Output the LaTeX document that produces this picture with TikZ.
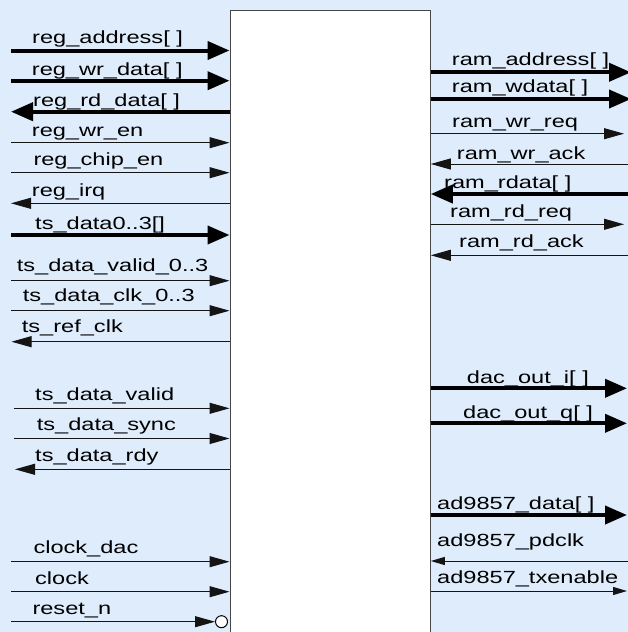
\documentclass[tikz,border=0pt]{standalone}
\usepackage{fontspec}
\setmainfont{Liberation Sans}[FakeStretch=1.34]
\usetikzlibrary{arrows.meta}
\definecolor{bg}{RGB}{222,236,252}
\definecolor{ln}{RGB}{20,20,20}
\definecolor{boxline}{RGB}{70,70,70}
\begin{document}
\begin{tikzpicture}[x=1pt,y=-1pt,
  lbl/.style={anchor=base west, inner sep=0pt, font=\fontsize{17.6}{20}\selectfont},
  bus/.style={draw=black, line width=4pt, -{Triangle[length=22pt,width=18pt]}},
  sig/.style={draw=ln, line width=1pt, -{Triangle[length=20pt,width=11pt]}},
  ssig/.style={draw=ln, line width=1pt, -{Triangle[length=14pt,width=8pt]}},
  blockbox/.style={draw=boxline, line width=1.3pt, fill=white, inner sep=0pt,
    minimum width=200pt, minimum height=660pt, anchor=north west},
  bubble/.style={circle, draw=black, line width=1pt, fill=white, inner sep=0pt, minimum size=12pt}]
\useasboundingbox (0,0) rectangle (628,632);
\clip (0,0) rectangle (628,632);
\fill[bg] (0,0) rectangle (628,632);
\node[blockbox] (box) at (229.5,10) {};

% ---------- left side free ends ----------
\coordinate (l1) at (11,50.5);
\coordinate (l2) at (11,80.7);
\coordinate (l3) at (11,111.7);
\coordinate (l4) at (11,142.7);
\coordinate (l5) at (11,172.7);
\coordinate (l6) at (11,203.3);
\coordinate (l7) at (11,235);
\coordinate (l8) at (11,280.7);
\coordinate (l9) at (11,310.7);
\coordinate (l10) at (11.5,341.7);
\coordinate (l11) at (14,408.3);
\coordinate (l12) at (14,438.5);
\coordinate (l13) at (15,469.3);
\coordinate (l14) at (11,561.7);
\coordinate (l15) at (11,591.7);
\coordinate (l16) at (11,621.7);
\node[bubble] (inv) at (221.5,621.7) {};

% left connectors
\draw[bus] (l1) -- (l1 -| box.west);
\draw[bus] (l2) -- (l2 -| box.west);
\draw[bus] (l3 -| box.west) -- (l3);
\draw[sig] (l4) -- (l4 -| box.west);
\draw[sig] (l5) -- (l5 -| box.west);
\draw[sig] (l6 -| box.west) -- (l6);
\draw[bus] (l7) -- (l7 -| box.west);
\draw[sig] (l8) -- (l8 -| box.west);
\draw[sig] (l9) -- (l9 -| box.west);
\draw[sig] (l10 -| box.west) -- (l10);
\draw[sig] (l11) -- (l11 -| box.west);
\draw[sig] (l12) -- (l12 -| box.west);
\draw[sig] (l13 -| box.west) -- (l13);
\draw[sig] (l14) -- (l14 -| box.west);
\draw[sig] (l15) -- (l15 -| box.west);
\draw[sig] (l16) -- (inv.west);

% left labels
\node[lbl] (t1) at (32,43) {reg\_address[ ]};
\node[lbl] (t2) at (31.7,75) {reg\_wr\_data[ ]};
\node[lbl] (t3) at (33,106) {reg\_rd\_data[ ]};
\node[lbl] (t4) at (31.7,136) {reg\_wr\_en};
\node[lbl] (t5) at (33.3,165.7) {reg\_chip\_en};
\node[lbl] (t6) at (31.7,196.7) {reg\_irq};
\node[lbl] (t7) at (35,229) {ts\_data0..3[]};
\node[lbl] (t8) at (16.7,271.7) {ts\_data\_valid\_0..3};
\node[lbl] (t9) at (22.7,301.7) {ts\_data\_clk\_0..3};
\node[lbl] (t10) at (21.7,332.7) {ts\_ref\_clk};
\node[lbl] (t11) at (35,400) {ts\_data\_valid};
\node[lbl] (t12) at (36.7,430) {ts\_data\_sync};
\node[lbl] (t13) at (35,461.7) {ts\_data\_rdy};
\node[lbl] (t14) at (33.3,553.3) {clock\_dac};
\node[lbl] (t15) at (35,584) {clock};
\node[lbl] (t16) at (32.3,614) {reset\_n};

% ---------- right side free ends ----------
\coordinate (r1) at (631,72.3);
\coordinate (r2) at (631,99);
\coordinate (r3) at (624,133.7);
\coordinate (r4) at (628,164);
\coordinate (r5) at (628,194);
\coordinate (r6) at (624,224.3);
\coordinate (r7) at (628,255.3);
\coordinate (r8) at (627,388.3);
\coordinate (r9) at (627,423.3);
\coordinate (r10) at (627,515);
\coordinate (r11) at (628,561);
\coordinate (r12) at (627,591);

\draw[bus] (box.east |- r1) -- (r1);
\draw[bus] (box.east |- r2) -- (r2);
\draw[sig] (box.east |- r3) -- (r3);
\draw[sig] (r4) -- (r4 -| box.east);
\draw[bus] (r5) -- (r5 -| box.east);
\draw[sig] (box.east |- r6) -- (r6);
\draw[sig] (r7) -- (r7 -| box.east);
\draw[bus] (box.east |- r8) -- (r8);
\draw[bus] (box.east |- r9) -- (r9);
\draw[bus] (box.east |- r10) -- (r10);
\draw[ssig] (r11) -- (r11 -| box.east);
\draw[ssig] (box.east |- r12) -- (r12);

% right labels
\node[lbl] (u1) at (451.7,65) {ram\_address[ ]};
\node[lbl] (u2) at (451.7,92) {ram\_wdata[ ]};
\node[lbl] (u3) at (452,127) {ram\_wr\_req};
\node[lbl] (u4) at (456.7,159) {ram\_wr\_ack};
\node[lbl] (u5) at (444,188) {ram\_rdata[ ]};
\node[lbl] (u6) at (450,217) {ram\_rd\_req};
\node[lbl] (u7) at (459,247) {ram\_rd\_ack};
\node[lbl] (u8) at (466.7,383) {dac\_out\_i[ ]};
\node[lbl] (u9) at (463,418) {dac\_out\_q[ ]};
\node[lbl] (u10) at (437,509) {ad9857\_data[ ]};
\node[lbl] (u11) at (437,546) {ad9857\_pdclk};
\node[lbl] (u12) at (437,583) {ad9857\_txenable};
\end{tikzpicture}
\end{document}
